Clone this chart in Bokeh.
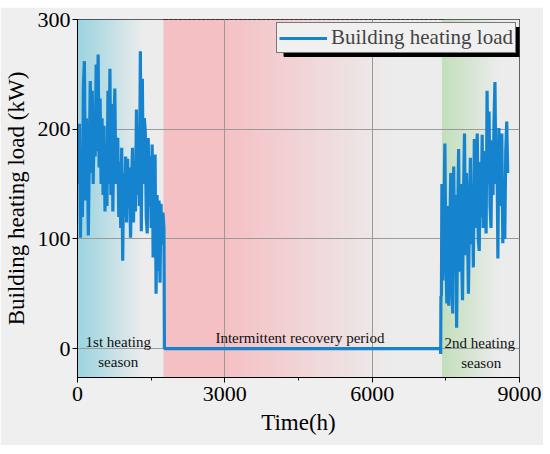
import numpy as np
from bokeh.plotting import figure
from bokeh.layouts import column
from bokeh.models import (SingleIntervalTicker, Legend, LegendItem, BoxAnnotation,
                          ColumnDataSource, Range1d, Spacer)
from bokeh.core.properties import value
from bokeh.embed import file_html
from bokeh.resources import INLINE

# ---------------- data ----------------
# 1st heating season, hourly load sampled every 20 h (kW)
s1_hours = np.arange(0, 1761, 20)
s1_load = [185, 150, 205, 101, 170, 120, 240, 262, 135, 210,
           190, 103, 175, 244, 160, 235, 150, 215, 175, 259,
           180, 268, 165, 228, 150, 210, 140, 203, 125, 180,
           130, 235, 150, 255, 140, 223, 125, 200, 237, 150,
           190, 192, 120, 170, 110, 183, 80, 160, 120, 175,
           115, 173, 130, 165, 101, 150, 183, 115, 170, 125,
           218, 140, 200, 130, 271, 107, 246, 150, 210, 198,
           120, 105, 192, 130, 175, 110, 186, 83, 160, 177,
           50, 140, 71, 135, 60, 132, 95, 124, 110]

# intermittent recovery period (no load) and onset of 2nd season
recovery_hours = [1770, 7390]
recovery_load = [0, 0]
onset_hours = [7395, 7400, 7410]
onset_load = [-5, 48, 48]

# 2nd heating season, sampled every 20 h (kW)
s2_hours = np.arange(7420, 8761, 20)
s2_load = [150, 62, 120, 187, 90, 41, 130, 39, 100, 160,
           60, 32, 166, 80, 140, 19, 110, 182, 70, 150,
           90, 44, 140, 196, 85, 160, 110, 50, 120, 174,
           95, 150, 74, 191, 110, 170, 196, 100, 89, 170,
           120, 195, 110, 180, 140, 105, 235, 150, 216, 130,
           110, 190, 140, 205, 243, 150, 190, 82, 201, 130,
           180, 196, 96, 150, 100, 180, 207, 160]

# periods (h)
period_names = ["1st heating season", "Intermittent recovery period", "2nd heating season"]
period_start = [0, 1750, 7420]
period_end = [1750, 7420, 9000]

x_ticks_interval = 3000
y_ticks_interval = 100

# ---------------- style ----------------
FONT = "Liberation Serif"
GREY = (236, 236, 236)
period_colors = [(160, 213, 225), (245, 192, 196), (196, 223, 190)]
# fade (solid until, grey from) in hours
period_fade = [(100, 1350), (3000, 6400), (7480, 8600)]

X0, X1 = 0, 9000
Y0, Y1 = -26.4, 300
W, H = 543, 438
FL, FR, FT, FB = 76, 519, 12, 370   # frame edges in figure pixels

p = figure(width=W, height=H, output_backend="svg", toolbar_location=None,
           x_range=Range1d(X0, X1), y_range=Range1d(Y0, Y1),
           min_border_left=FL, min_border_right=W - FR, min_border_top=FT,
           min_border_bottom=H - FB)
p.background_fill_color = "#ececec"
p.border_fill_color = "#efefef"
p.outline_line_color = "black"
p.outline_line_width = 1

# gradient background bands
lefts, rights, cols = [], [], []
n = 60
for (a, b), c, (f0, f1) in zip(zip(period_start, period_end), period_colors, period_fade):
    edges = np.linspace(a, b, n + 1)
    for i in range(n):
        xm = 0.5 * (edges[i] + edges[i + 1])
        t = np.clip((xm - f0) / (f1 - f0), 0, 1)
        rgb = tuple(int(round(c[k] * (1 - t) + GREY[k] * t)) for k in range(3))
        lefts.append(edges[i])
        rights.append(edges[i + 1] + (25 if i < n - 1 else 0))
        cols.append("#%02x%02x%02x" % rgb)
bg = ColumnDataSource(dict(left=lefts, right=rights, color=cols))
p.quad(left="left", right="right", bottom=Y0, top=Y1, fill_color="color",
       line_color=None, source=bg, level="image")

# grid
p.xgrid.grid_line_color = "#9a9a9a"
p.ygrid.grid_line_color = "#9a9a9a"
p.xgrid.grid_line_width = 1
p.ygrid.grid_line_width = 1

# load line
hours = list(s1_hours) + recovery_hours + onset_hours + list(s2_hours)
load = s1_load + recovery_load + onset_load + s2_load
src = ColumnDataSource(dict(x=hours, y=load))
line = p.line("x", "y", source=src, line_color="#1683cf", line_width=3.2)

# legend shadow (added before the legend so it is drawn underneath)
def px2x(px):
    return X0 + (px - FL) / (FR - FL) * (X1 - X0)

def px2y(py):
    return Y1 - (py - FT) / (FB - FT) * (Y1 - Y0)

shadow = BoxAnnotation(left=px2x(283), right=px2x(520), top=px2y(20), bottom=px2y(49),
                       fill_color="black", fill_alpha=1, line_color="black", line_alpha=1,
                       line_width=1)
p.add_layout(shadow)

legend = Legend(items=[LegendItem(label="Building heating load", renderers=[line])],
                location="top_right", margin=3, padding=2, spacing=0,
                glyph_width=48, glyph_height=18, label_standoff=4,
                label_text_font=FONT, label_text_font_size="21px",
                border_line_color="black", border_line_width=1,
                background_fill_color="#f0f0f0", background_fill_alpha=1)
p.add_layout(legend, "center")

# period labels
lab_x = [830, 830, 4530, 8190, 8220]
lab_y = [6, -12, 10, 5, -13]
lab_t = ["1st heating", "season", "Intermittent recovery period", "2nd heating", "season"]
p.text(x=lab_x, y=lab_y, text=lab_t, text_font=value(FONT), text_font_size="15px",
       text_align="center", text_baseline="middle", text_color="#111111")

# axes
p.xaxis.ticker = SingleIntervalTicker(interval=x_ticks_interval, num_minor_ticks=2)
p.yaxis.ticker = SingleIntervalTicker(interval=y_ticks_interval, num_minor_ticks=0)
p.xaxis.axis_label = "Time(h)"
p.yaxis.axis_label = "Building heating load (kW)"
for ax in (p.xaxis, p.yaxis):
    ax.axis_label_text_font = FONT
    ax.axis_label_text_font_size = "23px"
    ax.axis_label_text_font_style = "normal"
    ax.axis_label_text_color = "black"
    ax.major_label_text_font = FONT
    ax.major_label_text_font_size = "22px"
    ax.major_label_text_color = "black"
    ax.axis_line_color = "black"
    ax.major_tick_line_color = "black"
    ax.minor_tick_line_color = "black"
    ax.major_tick_out = 5
    ax.major_tick_in = 0
    ax.minor_tick_out = 3
    ax.minor_tick_in = 0
p.xaxis.major_label_standoff = 4
p.xaxis.axis_label_standoff = 6
p.yaxis.major_label_standoff = 2
p.yaxis.axis_label_standoff = 6

page = column(Spacer(width=W, height=7), p, spacing=0)
open("out.html", "w").write(file_html(page, INLINE))
